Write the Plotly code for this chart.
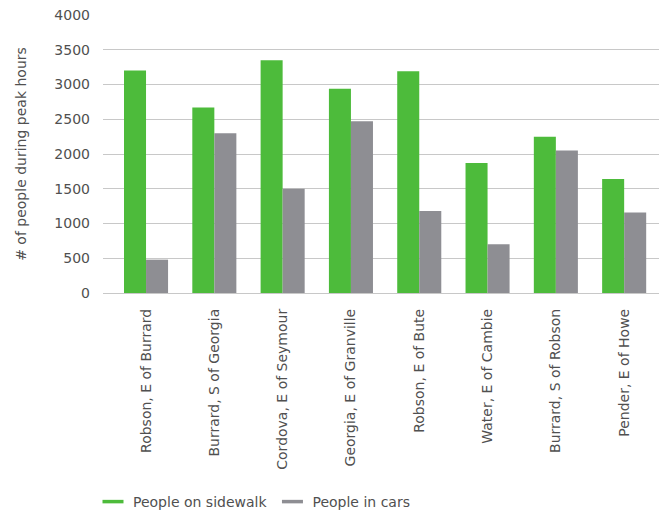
import plotly.graph_objects as go

categories = ["Robson, E of Burrard", "Burrard, S of Georgia", "Cordova, E of Seymour",
              "Georgia, E of Granville", "Robson, E of Bute", "Water, E of Cambie",
              "Burrard, S of Robson", "Pender, E of Howe"]
sidewalk = [3200, 2670, 3350, 2940, 3190, 1870, 2250, 1640]
cars = [480, 2300, 1500, 2470, 1180, 700, 2050, 1160]
y_ticks = [0, 500, 1000, 1500, 2000, 2500, 3000, 3500, 4000]

GREEN = "#4DBB3B"
GRAY = "#8E8E93"
FONT = "'DejaVu Sans', sans-serif"
TXT = "#505050"

fig = go.Figure()
fig.add_trace(go.Bar(x=list(range(len(categories))), y=sidewalk, marker_color=GREEN,
                     marker_line_width=0, showlegend=False, name="People on sidewalk"))
fig.add_trace(go.Bar(x=list(range(len(categories))), y=cars, marker_color=GRAY,
                     marker_line_width=0, showlegend=False, name="People in cars"))
# legend entries drawn as short lines
for nm, col in [("People on sidewalk", GREEN), ("People in cars", GRAY)]:
    fig.add_trace(go.Scatter(x=[None], y=[None], mode="markers", name=nm,
                             marker=dict(symbol="line-ew", size=15, color=col,
                                         line=dict(color=col, width=3.5))))

fig.update_layout(
    width=659, height=511,
    margin=dict(l=103, r=0, t=15, b=218, autoexpand=False),
    paper_bgcolor="white", plot_bgcolor="white",
    barmode="group", bargap=0.355, bargroupgap=0,
    font=dict(family=FONT, size=14, color=TXT),
    showlegend=True,
    legend=dict(orientation="h", xref="container", x=(103 - 10) / 659, xanchor="left",
                yref="container", y=(511 - 502) / 511, yanchor="middle",
                font=dict(size=14, color=TXT), itemwidth=30, tracegroupgap=0),
    xaxis=dict(range=[-0.63, 7.51], tickmode="array", tickvals=list(range(len(categories))),
               ticktext=categories, tickangle=-90, showgrid=False, zeroline=False,
               showline=False, ticks="", ticklabelstandoff=12, automargin=False,
               tickfont=dict(size=14, color=TXT)),
    yaxis=dict(range=[0, 4000], tickmode="array", tickvals=y_ticks,
               ticktext=[str(v) for v in y_ticks], showgrid=True, gridcolor="#C8C8C8",
               gridwidth=1, zeroline=True, zerolinecolor="#C8C8C8", zerolinewidth=1,
               showline=False, ticks="", ticklabelstandoff=12, automargin=False,
               tickfont=dict(size=14, color=TXT),
               title=dict(text="# of people during peak hours", standoff=24,
                          font=dict(size=14, color=TXT))),
)

fig.write_html("out.html")
